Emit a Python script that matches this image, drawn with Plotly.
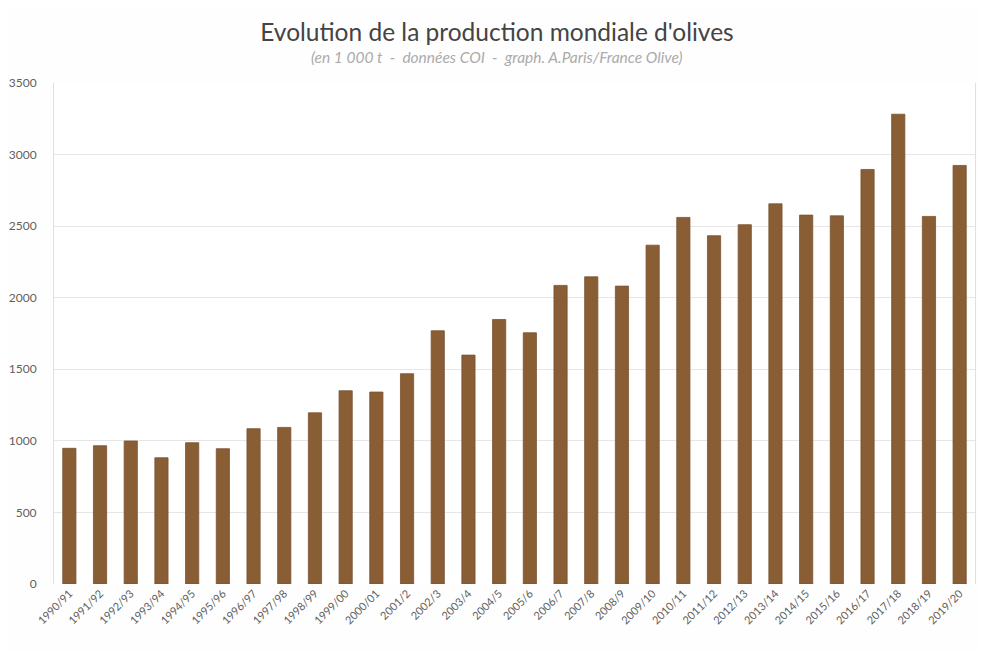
import plotly.graph_objects as go

campagnes = ["1990/91", "1991/92", "1992/93", "1993/94", "1994/95", "1995/96", "1996/97",
             "1997/98", "1998/99", "1999/00", "2000/01", "2001/2", "2002/3", "2003/4",
             "2004/5", "2005/6", "2006/7", "2007/8", "2008/9", "2009/10", "2010/11",
             "2011/12", "2012/13", "2013/14", "2014/15", "2015/16", "2016/17", "2017/18",
             "2018/19", "2019/20"]
production = [948, 966, 999, 882, 987, 945, 1085, 1094, 1196, 1350, 1341, 1469, 1769, 1599,
              1848, 1755, 2086, 2146, 2081, 2367, 2561, 2433, 2510, 2656, 2577, 2572, 2896,
              3282, 2568, 2924]
y_ticks = [0, 500, 1000, 1500, 2000, 2500, 3000, 3500]

W, H = 978, 644  # page body has an 8px margin
ML, MR = 46, 11

fig = go.Figure(go.Bar(
    x=campagnes, y=production,
    marker=dict(color="#8a5e35", line=dict(color="#7a5230", width=0.8)),
))

fig.update_layout(
    width=W, height=H,
    paper_bgcolor="#fefefe", plot_bgcolor="#ffffff",
    margin=dict(l=ML, r=MR, t=75, b=68, autoexpand=False),
    bargap=0.57,
    showlegend=False,
    font=dict(family="Lato, sans-serif", color="#595959"),
    title=dict(
        text="Evolution de la production mondiale d'olives",
        x=0.5, xanchor="center", y=1 - 24 / H, yanchor="middle",
        font=dict(family="Lato, sans-serif", size=24.5, color="#444444"),
    ),
    annotations=[dict(
        text="<i>(en 1 000 t  -  données COI  -  graph. A.Paris/France Olive)</i>",
        xref="paper", yref="paper", x=(W / 2 - ML) / (W - ML - MR), y=1.0 + 26 / 501,
        xanchor="center", yanchor="middle",
        showarrow=False, font=dict(family="Lato, sans-serif", size=15.5, color="#ababab"),
    )],
    xaxis=dict(
        tickangle=-45, tickfont=dict(size=11, color="#5f5f5f"),
        showline=False, showgrid=False, ticks="", automargin=False,
    ),
    yaxis=dict(
        range=[0, 3500], tickvals=y_ticks, ticktext=[str(v) for v in y_ticks],
        tickfont=dict(size=12, color="#5f5f5f"),
        showgrid=True, gridcolor="#e6e6e6", gridwidth=1,
        showline=True, linecolor="#e0e0e0", mirror=True,
        zeroline=False, ticks="", ticklabelstandoff=14, automargin=False,
    ),
)

fig.write_html("out.html")
